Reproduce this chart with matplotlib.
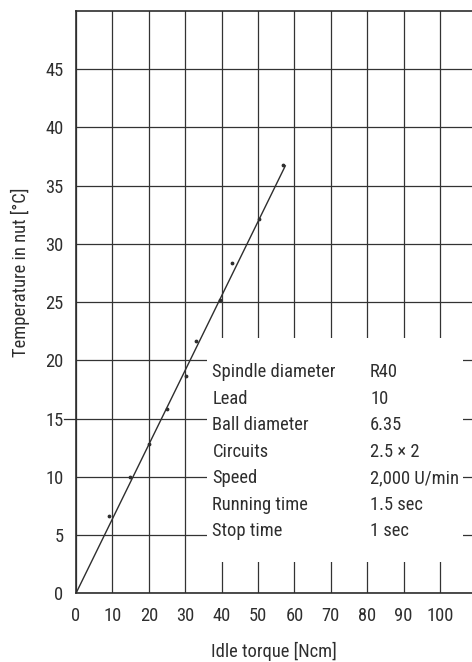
import matplotlib.pyplot as plt
import matplotlib.patches as patches

# measured points (idle torque vs temperature)
torque = [9.1, 14.8, 20.0, 24.9, 30.1, 33.0, 39.7, 42.8, 50.2, 56.8]
temp = [6.6, 10.0, 12.8, 15.8, 18.7, 21.7, 25.2, 28.4, 32.1, 36.8]

# fitted line
fit_x = [0, 57.5]
fit_y = [0, 36.7]

x_ticks = [0, 10, 20, 30, 40, 50, 60, 70, 80, 90, 100]
y_ticks = [0, 5, 10, 15, 20, 25, 30, 35, 40, 45]

spec_names = ['Spindle diameter', 'Lead', 'Ball diameter', 'Circuits',
              'Speed', 'Running time', 'Stop time']
spec_values = ['R40', '10', '6.35', '2.5 \u00d7 2', '2,000 U/min', '1.5 sec', '1 sec']

plt.rcParams['font.family'] = ['Roboto Condensed', 'Roboto', 'DejaVu Sans']
ink = '#2e2e2e'
fs = 13.3

fig = plt.figure(figsize=(4.72, 6.62), dpi=100)
ax = fig.add_axes([0.161, 0.1038, 0.839, 0.8796])

ax.set_xlim(0, 108.8)
ax.set_ylim(0, 50)
ax.set_xticks(x_ticks)
ax.set_yticks(y_ticks)
ax.tick_params(length=0, labelsize=fs, colors=ink)
ax.tick_params(axis='x', pad=10)
ax.tick_params(axis='y', pad=9)
ax.grid(True, color='#333333', linewidth=0.9)
ax.set_axisbelow(True)

for s in ['left', 'top', 'bottom']:
    ax.spines[s].set_color(ink)
    ax.spines[s].set_linewidth(1.2)
ax.spines['right'].set_visible(False)

# odd little leader at 15
ax.plot([-3.2, 0], [y_ticks[3], y_ticks[3]], color=ink, lw=0.9, clip_on=False)

# white box for the spec table
ax.add_patch(patches.Rectangle((35.9, 2.7), 70.4, 19.2, facecolor='white',
                               edgecolor='none', zorder=2))

ax.plot(fit_x, fit_y, color=ink, lw=1.0, zorder=3)
ax.scatter(torque, temp, s=3, color=ink, zorder=4)

row_y = 19.0
for name, val in zip(spec_names, spec_values):
    ax.text(37.5, row_y, name, fontsize=fs, color=ink, va='center', zorder=5)
    ax.text(80.8, row_y, val, fontsize=fs, color=ink, va='center', zorder=5)
    row_y -= 2.28

ax.set_xlabel('Idle torque [Ncm]', fontsize=fs, color=ink, labelpad=12)
ax.set_ylabel('Temperature in nut [\u00b0C]', fontsize=fs, color=ink)
ax.yaxis.set_label_coords(-0.117, 0.552)

fig.savefig('out.png', dpi=100)
